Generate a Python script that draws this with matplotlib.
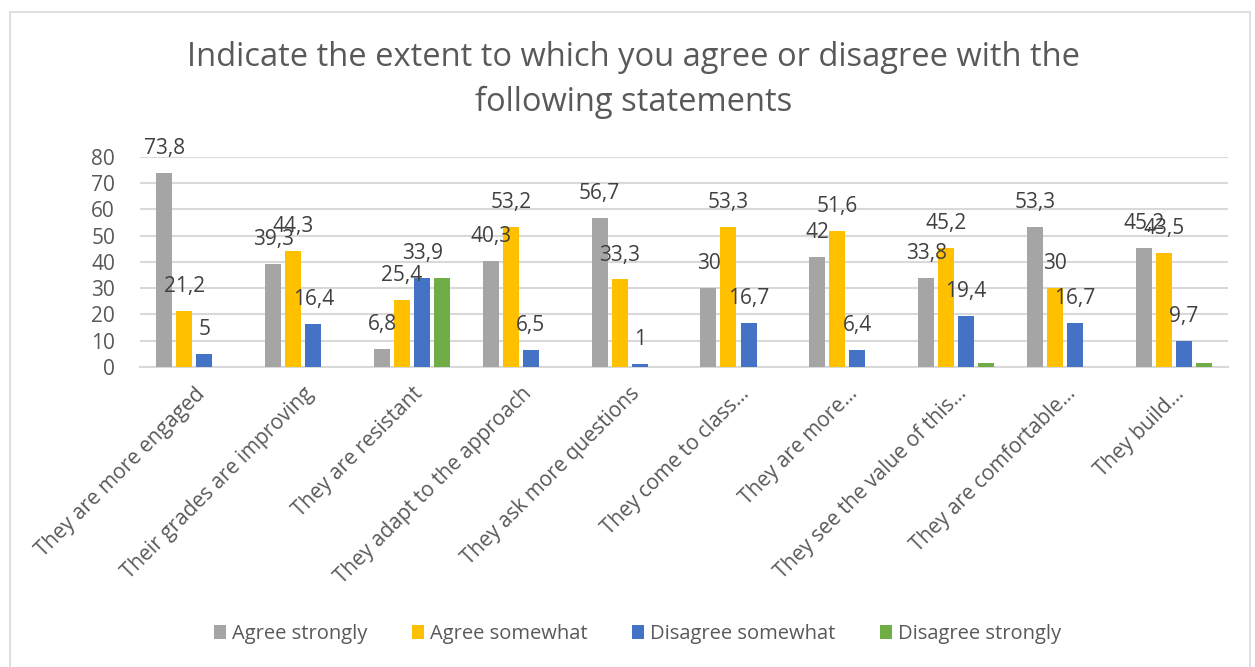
"""Survey responses: grouped bar chart"""

import numpy as np
import matplotlib.pyplot as plt
from matplotlib.patches import Rectangle

categories = [
    'They are more engaged',
    'Their grades are improving',
    'They are resistant',
    'They adapt to the approach',
    'They ask more questions',
    'They come to class...',
    'They are more...',
    'They see the value of this...',
    'They are comfortable...',
    'They build...',
]
series_names = ['Agree strongly', 'Agree somewhat',
                'Disagree somewhat', 'Disagree strongly']
agree_strongly = [73.8, 39.3, 6.8, 40.3, 56.7, 30, 42, 33.8, 53.3, 45.2]
agree_somewhat = [21.2, 44.3, 25.4, 53.2, 33.3, 53.3, 51.6, 45.2, 30, 43.5]
disagree_somewhat = [5, 16.4, 33.9, 6.5, 1, 16.7, 6.4, 19.4, 16.7, 9.7]
disagree_strongly = [0, 0, 33.9, 0, 0, 0, 0, 1.6, 0, 1.6]
colors = ['#a5a5a5', '#ffc000', '#4472c4', '#70ad47']
yticks = list(range(0, 90, 10))


def label(v):
    """Format value with a decimal comma"""
    s = f'{v:g}'
    return s.replace('.', ',')


def main():
    plt.rcParams['font.family'] = ['Open Sans', 'DejaVu Sans']
    fig = plt.figure(figsize=(12.55, 6.67), dpi=100)
    ax = fig.add_axes([0.1116, 0.45, 0.867, 0.315])

    # light frame round the whole chart
    fig.patches.append(Rectangle((0.008, -0.01), 0.988, 0.992,
                                 transform=fig.transFigure, fill=False,
                                 edgecolor='#d9d9d9', linewidth=1.2))

    x = np.arange(len(categories))
    data = [agree_strongly, agree_somewhat, disagree_somewhat,
            disagree_strongly]
    width = 0.147
    step = 0.184
    for i, (vals, name, c) in enumerate(zip(data, series_names, colors)):
        pos = x + (i - 1.5) * step
        ax.bar(pos, vals, width, color=c, label=name, zorder=3)
        if i < 3:
            for p, v in zip(pos, vals):
                ax.annotate(label(v), (p, v), xytext=(0, 10),
                            textcoords='offset points', ha='center',
                            va='bottom', fontsize=15, color='#404040',
                            zorder=4)

    ax.set_xlim(-0.5, len(categories) - 0.5)
    ax.set_ylim(0, 80)
    ax.set_yticks(yticks)
    ax.set_yticklabels([str(t) for t in yticks], fontsize=15,
                       color='#595959')
    ax.set_xticks(x)
    ax.set_xticklabels(categories, rotation=45, ha='right',
                       rotation_mode='anchor', fontsize=15, color='#595959')
    ax.tick_params(axis='x', length=0, pad=12)
    ax.tick_params(axis='y', length=0, pad=18)
    ax.grid(axis='y', color='#d9d9d9', linewidth=1.5, zorder=0)
    for s in ['top', 'right', 'left']:
        ax.spines[s].set_visible(False)
    ax.spines['bottom'].set_color('#d9d9d9')
    ax.spines['bottom'].set_linewidth(1.5)

    fig.text(0.505, 0.88, 'Indicate the extent to which you agree or '
             'disagree with the\nfollowing statements', ha='center',
             va='center', fontsize=23.5, color='#595959', linespacing=1.5)

    fig.legend(loc='center', bbox_to_anchor=(0.508, 0.049), ncol=4,
               frameon=False, fontsize=14.5, handlelength=0.6,
               handleheight=0.7, handletextpad=0.3, columnspacing=2.2,
               labelcolor='#595959')

    plt.savefig('out.png', dpi=100)


if __name__ == "__main__":
    main()
